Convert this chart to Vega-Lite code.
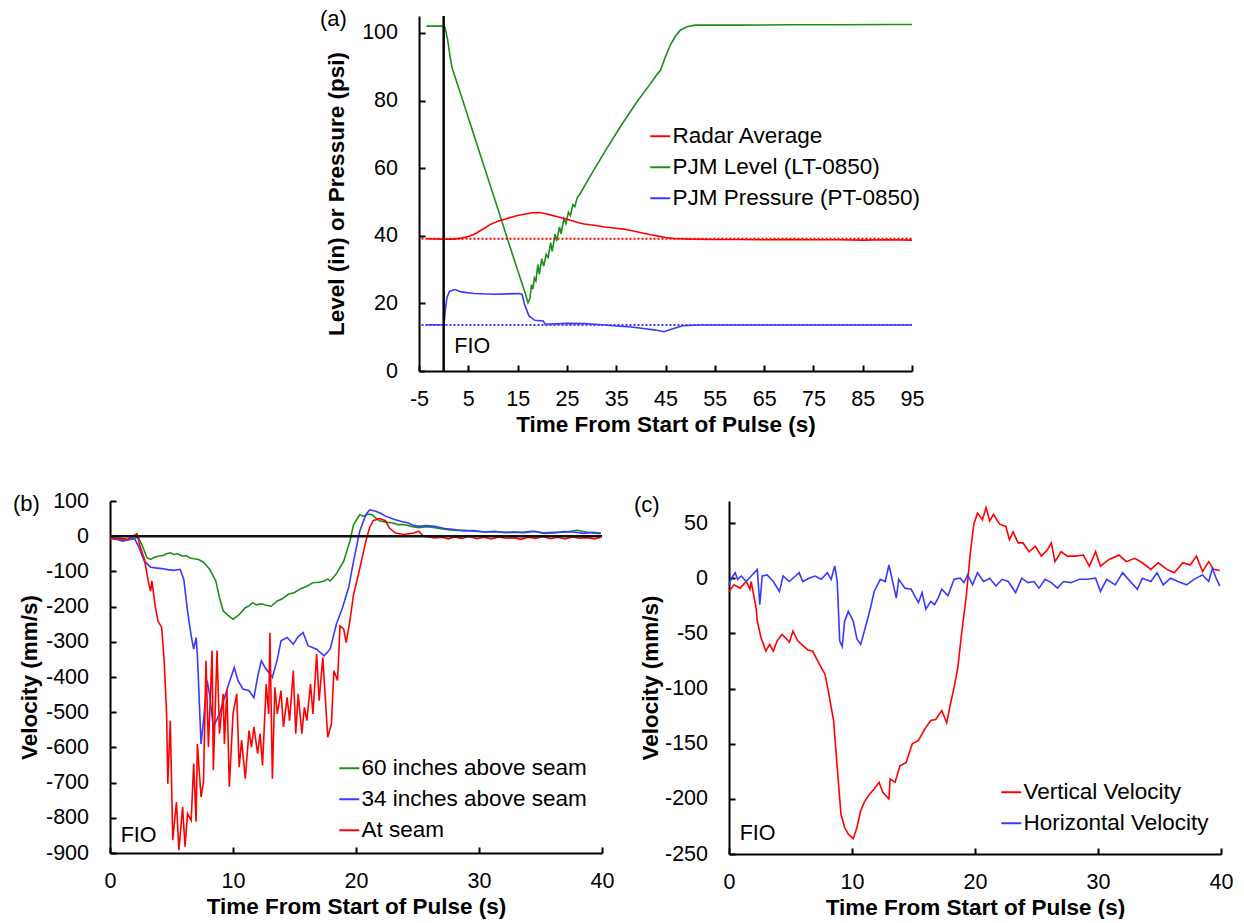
{
  "$schema": "https://vega.github.io/schema/vega-lite/v6.json",
  "background": "white",
  "padding": {"left": 13, "top": 7, "right": 0, "bottom": 0},
  "datasets": {
    "aLines": [
      {"t": -3.5, "v": 102.0, "s": "PJM Level (LT-0850)"},
      {"t": 0, "v": 102.0, "s": "PJM Level (LT-0850)"},
      {"t": 0.3, "v": 101.5, "s": "PJM Level (LT-0850)"},
      {"t": 0.8, "v": 98, "s": "PJM Level (LT-0850)"},
      {"t": 1.3, "v": 93, "s": "PJM Level (LT-0850)"},
      {"t": 1.7, "v": 89.7, "s": "PJM Level (LT-0850)"},
      {"t": 3, "v": 83.9, "s": "PJM Level (LT-0850)"},
      {"t": 5, "v": 74.9, "s": "PJM Level (LT-0850)"},
      {"t": 7, "v": 65.9, "s": "PJM Level (LT-0850)"},
      {"t": 9, "v": 56.9, "s": "PJM Level (LT-0850)"},
      {"t": 11, "v": 47.9, "s": "PJM Level (LT-0850)"},
      {"t": 13, "v": 38.8, "s": "PJM Level (LT-0850)"},
      {"t": 15, "v": 29.8, "s": "PJM Level (LT-0850)"},
      {"t": 16.5, "v": 23.2, "s": "PJM Level (LT-0850)"},
      {"t": 17.1, "v": 20.2, "s": "PJM Level (LT-0850)"},
      {"t": 17.5, "v": 21.5, "s": "PJM Level (LT-0850)"},
      {"t": 17.8, "v": 25.5, "s": "PJM Level (LT-0850)"},
      {"t": 18.1, "v": 24.2, "s": "PJM Level (LT-0850)"},
      {"t": 18.4, "v": 27.5, "s": "PJM Level (LT-0850)"},
      {"t": 18.7, "v": 26.6, "s": "PJM Level (LT-0850)"},
      {"t": 19.1, "v": 31.5, "s": "PJM Level (LT-0850)"},
      {"t": 19.4, "v": 28.6, "s": "PJM Level (LT-0850)"},
      {"t": 19.9, "v": 33.2, "s": "PJM Level (LT-0850)"},
      {"t": 20.3, "v": 31.0, "s": "PJM Level (LT-0850)"},
      {"t": 20.8, "v": 34.5, "s": "PJM Level (LT-0850)"},
      {"t": 21.2, "v": 33.6, "s": "PJM Level (LT-0850)"},
      {"t": 21.7, "v": 38.0, "s": "PJM Level (LT-0850)"},
      {"t": 22.0, "v": 35.4, "s": "PJM Level (LT-0850)"},
      {"t": 22.6, "v": 40.5, "s": "PJM Level (LT-0850)"},
      {"t": 22.9, "v": 38.4, "s": "PJM Level (LT-0850)"},
      {"t": 23.5, "v": 42.6, "s": "PJM Level (LT-0850)"},
      {"t": 23.8, "v": 40.6, "s": "PJM Level (LT-0850)"},
      {"t": 24.4, "v": 45.0, "s": "PJM Level (LT-0850)"},
      {"t": 24.8, "v": 43.6, "s": "PJM Level (LT-0850)"},
      {"t": 25.3, "v": 47.0, "s": "PJM Level (LT-0850)"},
      {"t": 25.7, "v": 46.0, "s": "PJM Level (LT-0850)"},
      {"t": 26.2, "v": 49.2, "s": "PJM Level (LT-0850)"},
      {"t": 26.6, "v": 48.6, "s": "PJM Level (LT-0850)"},
      {"t": 27.1, "v": 51.3, "s": "PJM Level (LT-0850)"},
      {"t": 27.7, "v": 52.5, "s": "PJM Level (LT-0850)"},
      {"t": 30, "v": 58.3, "s": "PJM Level (LT-0850)"},
      {"t": 33, "v": 65.6, "s": "PJM Level (LT-0850)"},
      {"t": 36, "v": 72.6, "s": "PJM Level (LT-0850)"},
      {"t": 39, "v": 79.2, "s": "PJM Level (LT-0850)"},
      {"t": 41.8, "v": 84.7, "s": "PJM Level (LT-0850)"},
      {"t": 43, "v": 87.2, "s": "PJM Level (LT-0850)"},
      {"t": 44, "v": 89, "s": "PJM Level (LT-0850)"},
      {"t": 45, "v": 93, "s": "PJM Level (LT-0850)"},
      {"t": 46, "v": 96.5, "s": "PJM Level (LT-0850)"},
      {"t": 47, "v": 99, "s": "PJM Level (LT-0850)"},
      {"t": 48, "v": 100.8, "s": "PJM Level (LT-0850)"},
      {"t": 49.3, "v": 101.8, "s": "PJM Level (LT-0850)"},
      {"t": 51, "v": 102.3, "s": "PJM Level (LT-0850)"},
      {"t": 60, "v": 102.3, "s": "PJM Level (LT-0850)"},
      {"t": 70, "v": 102.4, "s": "PJM Level (LT-0850)"},
      {"t": 80, "v": 102.4, "s": "PJM Level (LT-0850)"},
      {"t": 90, "v": 102.5, "s": "PJM Level (LT-0850)"},
      {"t": 95, "v": 102.5, "s": "PJM Level (LT-0850)"},
      {"t": -3.5, "v": 39.1, "s": "Radar Average"},
      {"t": 0, "v": 39.0, "s": "Radar Average"},
      {"t": 2, "v": 39.0, "s": "Radar Average"},
      {"t": 3.6, "v": 39.3, "s": "Radar Average"},
      {"t": 5, "v": 39.8, "s": "Radar Average"},
      {"t": 6.1, "v": 40.4, "s": "Radar Average"},
      {"t": 8, "v": 42, "s": "Radar Average"},
      {"t": 9.4, "v": 43.3, "s": "Radar Average"},
      {"t": 11, "v": 44.3, "s": "Radar Average"},
      {"t": 13.5, "v": 45.4, "s": "Radar Average"},
      {"t": 15, "v": 46, "s": "Radar Average"},
      {"t": 16.9, "v": 46.5, "s": "Radar Average"},
      {"t": 18, "v": 46.8, "s": "Radar Average"},
      {"t": 19.4, "v": 46.9, "s": "Radar Average"},
      {"t": 20.5, "v": 46.6, "s": "Radar Average"},
      {"t": 21.8, "v": 46.1, "s": "Radar Average"},
      {"t": 23.5, "v": 45.5, "s": "Radar Average"},
      {"t": 25.2, "v": 44.8, "s": "Radar Average"},
      {"t": 27, "v": 44, "s": "Radar Average"},
      {"t": 28.5, "v": 43.5, "s": "Radar Average"},
      {"t": 30.5, "v": 43.1, "s": "Radar Average"},
      {"t": 32.7, "v": 42.6, "s": "Radar Average"},
      {"t": 34.5, "v": 42.3, "s": "Radar Average"},
      {"t": 36.8, "v": 41.9, "s": "Radar Average"},
      {"t": 38.5, "v": 41.4, "s": "Radar Average"},
      {"t": 40.1, "v": 40.9, "s": "Radar Average"},
      {"t": 42, "v": 40.3, "s": "Radar Average"},
      {"t": 43.5, "v": 39.9, "s": "Radar Average"},
      {"t": 45, "v": 39.5, "s": "Radar Average"},
      {"t": 46.8, "v": 39.2, "s": "Radar Average"},
      {"t": 50.1, "v": 39.0, "s": "Radar Average"},
      {"t": 55, "v": 38.9, "s": "Radar Average"},
      {"t": 60, "v": 38.9, "s": "Radar Average"},
      {"t": 65, "v": 38.8, "s": "Radar Average"},
      {"t": 70, "v": 38.9, "s": "Radar Average"},
      {"t": 75, "v": 38.8, "s": "Radar Average"},
      {"t": 80, "v": 38.8, "s": "Radar Average"},
      {"t": 85, "v": 38.7, "s": "Radar Average"},
      {"t": 90, "v": 38.8, "s": "Radar Average"},
      {"t": 95, "v": 38.7, "s": "Radar Average"},
      {"t": -3.5, "v": 13.7, "s": "PJM Pressure (PT-0850)"},
      {"t": 0, "v": 13.7, "s": "PJM Pressure (PT-0850)"},
      {"t": 0.15, "v": 15, "s": "PJM Pressure (PT-0850)"},
      {"t": 0.3, "v": 17.5, "s": "PJM Pressure (PT-0850)"},
      {"t": 0.65, "v": 21.7, "s": "PJM Pressure (PT-0850)"},
      {"t": 1.2, "v": 23.6, "s": "PJM Pressure (PT-0850)"},
      {"t": 2.3, "v": 24.1, "s": "PJM Pressure (PT-0850)"},
      {"t": 3.6, "v": 23.4, "s": "PJM Pressure (PT-0850)"},
      {"t": 6.1, "v": 22.9, "s": "PJM Pressure (PT-0850)"},
      {"t": 10.2, "v": 22.7, "s": "PJM Pressure (PT-0850)"},
      {"t": 13, "v": 22.8, "s": "PJM Pressure (PT-0850)"},
      {"t": 15.2, "v": 22.9, "s": "PJM Pressure (PT-0850)"},
      {"t": 15.9, "v": 22.7, "s": "PJM Pressure (PT-0850)"},
      {"t": 16.4, "v": 19.7, "s": "PJM Pressure (PT-0850)"},
      {"t": 17.3, "v": 16.3, "s": "PJM Pressure (PT-0850)"},
      {"t": 18.5, "v": 15.0, "s": "PJM Pressure (PT-0850)"},
      {"t": 20.2, "v": 14.8, "s": "PJM Pressure (PT-0850)"},
      {"t": 20.6, "v": 13.8, "s": "PJM Pressure (PT-0850)"},
      {"t": 25, "v": 14.1, "s": "PJM Pressure (PT-0850)"},
      {"t": 28.5, "v": 14.0, "s": "PJM Pressure (PT-0850)"},
      {"t": 32, "v": 13.7, "s": "PJM Pressure (PT-0850)"},
      {"t": 35.1, "v": 13.3, "s": "PJM Pressure (PT-0850)"},
      {"t": 38, "v": 13.0, "s": "PJM Pressure (PT-0850)"},
      {"t": 41, "v": 12.5, "s": "PJM Pressure (PT-0850)"},
      {"t": 43, "v": 12.1, "s": "PJM Pressure (PT-0850)"},
      {"t": 44.7, "v": 11.6, "s": "PJM Pressure (PT-0850)"},
      {"t": 46, "v": 12.3, "s": "PJM Pressure (PT-0850)"},
      {"t": 48.5, "v": 13.4, "s": "PJM Pressure (PT-0850)"},
      {"t": 52, "v": 13.6, "s": "PJM Pressure (PT-0850)"},
      {"t": 60, "v": 13.6, "s": "PJM Pressure (PT-0850)"},
      {"t": 70, "v": 13.6, "s": "PJM Pressure (PT-0850)"},
      {"t": 80, "v": 13.6, "s": "PJM Pressure (PT-0850)"},
      {"t": 90, "v": 13.6, "s": "PJM Pressure (PT-0850)"},
      {"t": 95, "v": 13.6, "s": "PJM Pressure (PT-0850)"}
    ],
    "aRefs": [
      {"t": -4.5, "t2": 95, "v": 39.1, "s": "Radar Average"},
      {"t": -4.5, "t2": 95, "v": 13.6, "s": "PJM Pressure (PT-0850)"}
    ],
    "bLines": [
      {"t": 0, "v": -7, "s": "60 inches above seam"},
      {"t": 0.5, "v": -9, "s": "60 inches above seam"},
      {"t": 1.0, "v": -8, "s": "60 inches above seam"},
      {"t": 1.5, "v": -10, "s": "60 inches above seam"},
      {"t": 2.0, "v": -6, "s": "60 inches above seam"},
      {"t": 2.3, "v": -3, "s": "60 inches above seam"},
      {"t": 2.6, "v": -25, "s": "60 inches above seam"},
      {"t": 3.0, "v": -61, "s": "60 inches above seam"},
      {"t": 3.3, "v": -66, "s": "60 inches above seam"},
      {"t": 3.6, "v": -60, "s": "60 inches above seam"},
      {"t": 3.9, "v": -57, "s": "60 inches above seam"},
      {"t": 4.3, "v": -55, "s": "60 inches above seam"},
      {"t": 4.6, "v": -50, "s": "60 inches above seam"},
      {"t": 4.9, "v": -47, "s": "60 inches above seam"},
      {"t": 5.2, "v": -52, "s": "60 inches above seam"},
      {"t": 5.5, "v": -50, "s": "60 inches above seam"},
      {"t": 5.9, "v": -57, "s": "60 inches above seam"},
      {"t": 6.2, "v": -55, "s": "60 inches above seam"},
      {"t": 6.5, "v": -62, "s": "60 inches above seam"},
      {"t": 6.8, "v": -64, "s": "60 inches above seam"},
      {"t": 7.2, "v": -66, "s": "60 inches above seam"},
      {"t": 7.6, "v": -74, "s": "60 inches above seam"},
      {"t": 8.1, "v": -94, "s": "60 inches above seam"},
      {"t": 8.6, "v": -127, "s": "60 inches above seam"},
      {"t": 8.9, "v": -175, "s": "60 inches above seam"},
      {"t": 9.2, "v": -212, "s": "60 inches above seam"},
      {"t": 9.6, "v": -225, "s": "60 inches above seam"},
      {"t": 10.0, "v": -236, "s": "60 inches above seam"},
      {"t": 10.4, "v": -226, "s": "60 inches above seam"},
      {"t": 10.7, "v": -215, "s": "60 inches above seam"},
      {"t": 11.0, "v": -203, "s": "60 inches above seam"},
      {"t": 11.3, "v": -198, "s": "60 inches above seam"},
      {"t": 11.6, "v": -189, "s": "60 inches above seam"},
      {"t": 11.9, "v": -195, "s": "60 inches above seam"},
      {"t": 12.3, "v": -192, "s": "60 inches above seam"},
      {"t": 12.7, "v": -196, "s": "60 inches above seam"},
      {"t": 13.1, "v": -199, "s": "60 inches above seam"},
      {"t": 13.6, "v": -184, "s": "60 inches above seam"},
      {"t": 14.0, "v": -178, "s": "60 inches above seam"},
      {"t": 14.5, "v": -165, "s": "60 inches above seam"},
      {"t": 15.0, "v": -160, "s": "60 inches above seam"},
      {"t": 15.5, "v": -149, "s": "60 inches above seam"},
      {"t": 16.0, "v": -142, "s": "60 inches above seam"},
      {"t": 16.5, "v": -132, "s": "60 inches above seam"},
      {"t": 17.0, "v": -131, "s": "60 inches above seam"},
      {"t": 17.4, "v": -127, "s": "60 inches above seam"},
      {"t": 17.7, "v": -122, "s": "60 inches above seam"},
      {"t": 17.9, "v": -127, "s": "60 inches above seam"},
      {"t": 18.4, "v": -107, "s": "60 inches above seam"},
      {"t": 19.0, "v": -71, "s": "60 inches above seam"},
      {"t": 19.5, "v": -14, "s": "60 inches above seam"},
      {"t": 19.8, "v": 33, "s": "60 inches above seam"},
      {"t": 20.3, "v": 61, "s": "60 inches above seam"},
      {"t": 20.6, "v": 57, "s": "60 inches above seam"},
      {"t": 21.0, "v": 63, "s": "60 inches above seam"},
      {"t": 21.3, "v": 61, "s": "60 inches above seam"},
      {"t": 21.6, "v": 52, "s": "60 inches above seam"},
      {"t": 21.9, "v": 44, "s": "60 inches above seam"},
      {"t": 22.4, "v": 40, "s": "60 inches above seam"},
      {"t": 22.9, "v": 38, "s": "60 inches above seam"},
      {"t": 23.4, "v": 33, "s": "60 inches above seam"},
      {"t": 23.9, "v": 33, "s": "60 inches above seam"},
      {"t": 24.5, "v": 28, "s": "60 inches above seam"},
      {"t": 25.1, "v": 24, "s": "60 inches above seam"},
      {"t": 25.8, "v": 27, "s": "60 inches above seam"},
      {"t": 26.4, "v": 24, "s": "60 inches above seam"},
      {"t": 27.2, "v": 20, "s": "60 inches above seam"},
      {"t": 28.0, "v": 16, "s": "60 inches above seam"},
      {"t": 28.8, "v": 17, "s": "60 inches above seam"},
      {"t": 29.6, "v": 14, "s": "60 inches above seam"},
      {"t": 30.6, "v": 12, "s": "60 inches above seam"},
      {"t": 31.6, "v": 12, "s": "60 inches above seam"},
      {"t": 32.5, "v": 11, "s": "60 inches above seam"},
      {"t": 33.5, "v": 11, "s": "60 inches above seam"},
      {"t": 34.3, "v": 14, "s": "60 inches above seam"},
      {"t": 35.2, "v": 10, "s": "60 inches above seam"},
      {"t": 36.1, "v": 11, "s": "60 inches above seam"},
      {"t": 37.0, "v": 12, "s": "60 inches above seam"},
      {"t": 38.0, "v": 17, "s": "60 inches above seam"},
      {"t": 39.0, "v": 10, "s": "60 inches above seam"},
      {"t": 39.9, "v": 7, "s": "60 inches above seam"},
      {"t": 0, "v": -5, "s": "34 inches above seam"},
      {"t": 0.5, "v": -8, "s": "34 inches above seam"},
      {"t": 1.0, "v": -14, "s": "34 inches above seam"},
      {"t": 1.5, "v": -10, "s": "34 inches above seam"},
      {"t": 2.0, "v": -7, "s": "34 inches above seam"},
      {"t": 2.3, "v": -28, "s": "34 inches above seam"},
      {"t": 2.8, "v": -71, "s": "34 inches above seam"},
      {"t": 3.3, "v": -88, "s": "34 inches above seam"},
      {"t": 3.7, "v": -90, "s": "34 inches above seam"},
      {"t": 4.2, "v": -92, "s": "34 inches above seam"},
      {"t": 4.7, "v": -95, "s": "34 inches above seam"},
      {"t": 5.2, "v": -97, "s": "34 inches above seam"},
      {"t": 5.7, "v": -94, "s": "34 inches above seam"},
      {"t": 6.0, "v": -123, "s": "34 inches above seam"},
      {"t": 6.3, "v": -212, "s": "34 inches above seam"},
      {"t": 6.6, "v": -283, "s": "34 inches above seam"},
      {"t": 6.8, "v": -321, "s": "34 inches above seam"},
      {"t": 7.0, "v": -288, "s": "34 inches above seam"},
      {"t": 7.1, "v": -335, "s": "34 inches above seam"},
      {"t": 7.4, "v": -590, "s": "34 inches above seam"},
      {"t": 7.6, "v": -524, "s": "34 inches above seam"},
      {"t": 7.9, "v": -410, "s": "34 inches above seam"},
      {"t": 8.1, "v": -450, "s": "34 inches above seam"},
      {"t": 8.3, "v": -514, "s": "34 inches above seam"},
      {"t": 8.4, "v": -542, "s": "34 inches above seam"},
      {"t": 8.9, "v": -505, "s": "34 inches above seam"},
      {"t": 9.4, "v": -448, "s": "34 inches above seam"},
      {"t": 9.7, "v": -415, "s": "34 inches above seam"},
      {"t": 10.1, "v": -373, "s": "34 inches above seam"},
      {"t": 10.4, "v": -410, "s": "34 inches above seam"},
      {"t": 10.8, "v": -434, "s": "34 inches above seam"},
      {"t": 11.3, "v": -439, "s": "34 inches above seam"},
      {"t": 11.7, "v": -459, "s": "34 inches above seam"},
      {"t": 12.0, "v": -400, "s": "34 inches above seam"},
      {"t": 12.3, "v": -354, "s": "34 inches above seam"},
      {"t": 12.6, "v": -373, "s": "34 inches above seam"},
      {"t": 13.2, "v": -401, "s": "34 inches above seam"},
      {"t": 13.6, "v": -350, "s": "34 inches above seam"},
      {"t": 13.9, "v": -297, "s": "34 inches above seam"},
      {"t": 14.4, "v": -288, "s": "34 inches above seam"},
      {"t": 14.9, "v": -307, "s": "34 inches above seam"},
      {"t": 15.3, "v": -285, "s": "34 inches above seam"},
      {"t": 15.7, "v": -274, "s": "34 inches above seam"},
      {"t": 16.1, "v": -311, "s": "34 inches above seam"},
      {"t": 16.8, "v": -321, "s": "34 inches above seam"},
      {"t": 17.4, "v": -340, "s": "34 inches above seam"},
      {"t": 17.9, "v": -321, "s": "34 inches above seam"},
      {"t": 18.4, "v": -250, "s": "34 inches above seam"},
      {"t": 18.9, "v": -203, "s": "34 inches above seam"},
      {"t": 19.4, "v": -146, "s": "34 inches above seam"},
      {"t": 19.8, "v": -71, "s": "34 inches above seam"},
      {"t": 20.3, "v": 14, "s": "34 inches above seam"},
      {"t": 20.8, "v": 61, "s": "34 inches above seam"},
      {"t": 21.1, "v": 75, "s": "34 inches above seam"},
      {"t": 21.6, "v": 71, "s": "34 inches above seam"},
      {"t": 22.0, "v": 65, "s": "34 inches above seam"},
      {"t": 22.4, "v": 57, "s": "34 inches above seam"},
      {"t": 22.8, "v": 52, "s": "34 inches above seam"},
      {"t": 23.2, "v": 47, "s": "34 inches above seam"},
      {"t": 23.7, "v": 42, "s": "34 inches above seam"},
      {"t": 24.2, "v": 38, "s": "34 inches above seam"},
      {"t": 24.6, "v": 32, "s": "34 inches above seam"},
      {"t": 25.1, "v": 28, "s": "34 inches above seam"},
      {"t": 25.7, "v": 30, "s": "34 inches above seam"},
      {"t": 26.4, "v": 28, "s": "34 inches above seam"},
      {"t": 27.2, "v": 22, "s": "34 inches above seam"},
      {"t": 28.0, "v": 19, "s": "34 inches above seam"},
      {"t": 28.8, "v": 15, "s": "34 inches above seam"},
      {"t": 29.6, "v": 16, "s": "34 inches above seam"},
      {"t": 30.4, "v": 12, "s": "34 inches above seam"},
      {"t": 31.3, "v": 14, "s": "34 inches above seam"},
      {"t": 32.1, "v": 10, "s": "34 inches above seam"},
      {"t": 32.9, "v": 12, "s": "34 inches above seam"},
      {"t": 33.7, "v": 10, "s": "34 inches above seam"},
      {"t": 34.5, "v": 14, "s": "34 inches above seam"},
      {"t": 35.3, "v": 8, "s": "34 inches above seam"},
      {"t": 36.1, "v": 9, "s": "34 inches above seam"},
      {"t": 36.9, "v": 13, "s": "34 inches above seam"},
      {"t": 37.7, "v": 12, "s": "34 inches above seam"},
      {"t": 38.5, "v": 8, "s": "34 inches above seam"},
      {"t": 39.2, "v": 11, "s": "34 inches above seam"},
      {"t": 39.9, "v": 9, "s": "34 inches above seam"},
      {"t": 0, "v": -7, "s": "At seam"},
      {"t": 0.7, "v": -5, "s": "At seam"},
      {"t": 1.4, "v": -9, "s": "At seam"},
      {"t": 2.2, "v": 7, "s": "At seam"},
      {"t": 2.4, "v": -24, "s": "At seam"},
      {"t": 2.8, "v": -66, "s": "At seam"},
      {"t": 3.1, "v": -127, "s": "At seam"},
      {"t": 3.3, "v": -156, "s": "At seam"},
      {"t": 3.4, "v": -127, "s": "At seam"},
      {"t": 3.7, "v": -203, "s": "At seam"},
      {"t": 3.9, "v": -241, "s": "At seam"},
      {"t": 4.2, "v": -259, "s": "At seam"},
      {"t": 4.4, "v": -354, "s": "At seam"},
      {"t": 4.6, "v": -505, "s": "At seam"},
      {"t": 4.7, "v": -703, "s": "At seam"},
      {"t": 4.9, "v": -524, "s": "At seam"},
      {"t": 5.1, "v": -863, "s": "At seam"},
      {"t": 5.4, "v": -755, "s": "At seam"},
      {"t": 5.6, "v": -892, "s": "At seam"},
      {"t": 5.9, "v": -769, "s": "At seam"},
      {"t": 6.1, "v": -882, "s": "At seam"},
      {"t": 6.3, "v": -788, "s": "At seam"},
      {"t": 6.6, "v": -807, "s": "At seam"},
      {"t": 6.8, "v": -646, "s": "At seam"},
      {"t": 7.0, "v": -811, "s": "At seam"},
      {"t": 7.1, "v": -590, "s": "At seam"},
      {"t": 7.4, "v": -741, "s": "At seam"},
      {"t": 7.6, "v": -698, "s": "At seam"},
      {"t": 7.8, "v": -354, "s": "At seam"},
      {"t": 8.0, "v": -599, "s": "At seam"},
      {"t": 8.3, "v": -325, "s": "At seam"},
      {"t": 8.4, "v": -665, "s": "At seam"},
      {"t": 8.7, "v": -325, "s": "At seam"},
      {"t": 8.9, "v": -561, "s": "At seam"},
      {"t": 9.2, "v": -448, "s": "At seam"},
      {"t": 9.3, "v": -590, "s": "At seam"},
      {"t": 9.5, "v": -434, "s": "At seam"},
      {"t": 9.7, "v": -712, "s": "At seam"},
      {"t": 10.0, "v": -505, "s": "At seam"},
      {"t": 10.3, "v": -448, "s": "At seam"},
      {"t": 10.5, "v": -656, "s": "At seam"},
      {"t": 10.7, "v": -580, "s": "At seam"},
      {"t": 11.0, "v": -689, "s": "At seam"},
      {"t": 11.3, "v": -552, "s": "At seam"},
      {"t": 11.5, "v": -599, "s": "At seam"},
      {"t": 11.7, "v": -542, "s": "At seam"},
      {"t": 12.0, "v": -618, "s": "At seam"},
      {"t": 12.2, "v": -561, "s": "At seam"},
      {"t": 12.4, "v": -651, "s": "At seam"},
      {"t": 12.7, "v": -420, "s": "At seam"},
      {"t": 12.9, "v": -505, "s": "At seam"},
      {"t": 13.0, "v": -274, "s": "At seam"},
      {"t": 13.2, "v": -689, "s": "At seam"},
      {"t": 13.4, "v": -429, "s": "At seam"},
      {"t": 13.6, "v": -505, "s": "At seam"},
      {"t": 13.9, "v": -439, "s": "At seam"},
      {"t": 14.1, "v": -542, "s": "At seam"},
      {"t": 14.4, "v": -458, "s": "At seam"},
      {"t": 14.6, "v": -524, "s": "At seam"},
      {"t": 14.9, "v": -382, "s": "At seam"},
      {"t": 15.1, "v": -561, "s": "At seam"},
      {"t": 15.3, "v": -448, "s": "At seam"},
      {"t": 15.6, "v": -561, "s": "At seam"},
      {"t": 15.8, "v": -486, "s": "At seam"},
      {"t": 16.0, "v": -524, "s": "At seam"},
      {"t": 16.3, "v": -420, "s": "At seam"},
      {"t": 16.5, "v": -505, "s": "At seam"},
      {"t": 16.8, "v": -335, "s": "At seam"},
      {"t": 17.0, "v": -467, "s": "At seam"},
      {"t": 17.3, "v": -345, "s": "At seam"},
      {"t": 17.5, "v": -458, "s": "At seam"},
      {"t": 17.7, "v": -571, "s": "At seam"},
      {"t": 18.0, "v": -533, "s": "At seam"},
      {"t": 18.2, "v": -382, "s": "At seam"},
      {"t": 18.5, "v": -410, "s": "At seam"},
      {"t": 18.7, "v": -255, "s": "At seam"},
      {"t": 19.0, "v": -264, "s": "At seam"},
      {"t": 19.2, "v": -302, "s": "At seam"},
      {"t": 19.5, "v": -241, "s": "At seam"},
      {"t": 19.8, "v": -165, "s": "At seam"},
      {"t": 20.2, "v": -108, "s": "At seam"},
      {"t": 20.5, "v": -61, "s": "At seam"},
      {"t": 20.8, "v": -14, "s": "At seam"},
      {"t": 21.1, "v": 24, "s": "At seam"},
      {"t": 21.4, "v": 44, "s": "At seam"},
      {"t": 21.9, "v": 50, "s": "At seam"},
      {"t": 22.4, "v": 44, "s": "At seam"},
      {"t": 22.7, "v": 24, "s": "At seam"},
      {"t": 23.2, "v": 9, "s": "At seam"},
      {"t": 23.9, "v": 5, "s": "At seam"},
      {"t": 24.7, "v": 9, "s": "At seam"},
      {"t": 25.1, "v": 14, "s": "At seam"},
      {"t": 25.5, "v": 0, "s": "At seam"},
      {"t": 26.4, "v": -5, "s": "At seam"},
      {"t": 27.0, "v": -3, "s": "At seam"},
      {"t": 27.5, "v": -8, "s": "At seam"},
      {"t": 28.0, "v": -2, "s": "At seam"},
      {"t": 28.6, "v": -6, "s": "At seam"},
      {"t": 29.2, "v": 0, "s": "At seam"},
      {"t": 29.8, "v": -7, "s": "At seam"},
      {"t": 30.4, "v": -3, "s": "At seam"},
      {"t": 31.0, "v": -8, "s": "At seam"},
      {"t": 31.6, "v": -2, "s": "At seam"},
      {"t": 32.2, "v": -6, "s": "At seam"},
      {"t": 32.8, "v": -4, "s": "At seam"},
      {"t": 33.4, "v": -9, "s": "At seam"},
      {"t": 34.0, "v": -3, "s": "At seam"},
      {"t": 34.6, "v": -6, "s": "At seam"},
      {"t": 35.2, "v": -1, "s": "At seam"},
      {"t": 35.8, "v": -7, "s": "At seam"},
      {"t": 36.4, "v": -3, "s": "At seam"},
      {"t": 37.0, "v": -8, "s": "At seam"},
      {"t": 37.6, "v": -2, "s": "At seam"},
      {"t": 38.2, "v": -6, "s": "At seam"},
      {"t": 38.8, "v": -4, "s": "At seam"},
      {"t": 39.4, "v": -8, "s": "At seam"},
      {"t": 39.9, "v": -3, "s": "At seam"}
    ],
    "cLines": [
      {"t": 0, "v": -12, "s": "Vertical Velocity"},
      {"t": 0.4, "v": -6, "s": "Vertical Velocity"},
      {"t": 0.9, "v": -9, "s": "Vertical Velocity"},
      {"t": 1.4, "v": -3, "s": "Vertical Velocity"},
      {"t": 1.7, "v": -10, "s": "Vertical Velocity"},
      {"t": 1.8, "v": -3, "s": "Vertical Velocity"},
      {"t": 2.2, "v": -27, "s": "Vertical Velocity"},
      {"t": 2.3, "v": -39, "s": "Vertical Velocity"},
      {"t": 2.6, "v": -54, "s": "Vertical Velocity"},
      {"t": 3.0, "v": -66, "s": "Vertical Velocity"},
      {"t": 3.3, "v": -60, "s": "Vertical Velocity"},
      {"t": 3.6, "v": -66, "s": "Vertical Velocity"},
      {"t": 3.9, "v": -57, "s": "Vertical Velocity"},
      {"t": 4.3, "v": -51, "s": "Vertical Velocity"},
      {"t": 4.6, "v": -54, "s": "Vertical Velocity"},
      {"t": 4.9, "v": -58, "s": "Vertical Velocity"},
      {"t": 5.2, "v": -48, "s": "Vertical Velocity"},
      {"t": 5.6, "v": -57, "s": "Vertical Velocity"},
      {"t": 5.9, "v": -60, "s": "Vertical Velocity"},
      {"t": 6.4, "v": -65, "s": "Vertical Velocity"},
      {"t": 6.8, "v": -66, "s": "Vertical Velocity"},
      {"t": 7.3, "v": -77, "s": "Vertical Velocity"},
      {"t": 7.8, "v": -87, "s": "Vertical Velocity"},
      {"t": 8.1, "v": -104, "s": "Vertical Velocity"},
      {"t": 8.5, "v": -129, "s": "Vertical Velocity"},
      {"t": 8.8, "v": -172, "s": "Vertical Velocity"},
      {"t": 9.1, "v": -214, "s": "Vertical Velocity"},
      {"t": 9.4, "v": -226, "s": "Vertical Velocity"},
      {"t": 9.7, "v": -232, "s": "Vertical Velocity"},
      {"t": 10.1, "v": -236, "s": "Vertical Velocity"},
      {"t": 10.4, "v": -226, "s": "Vertical Velocity"},
      {"t": 10.7, "v": -211, "s": "Vertical Velocity"},
      {"t": 11.0, "v": -203, "s": "Vertical Velocity"},
      {"t": 11.4, "v": -196, "s": "Vertical Velocity"},
      {"t": 11.8, "v": -191, "s": "Vertical Velocity"},
      {"t": 12.2, "v": -185, "s": "Vertical Velocity"},
      {"t": 12.5, "v": -194, "s": "Vertical Velocity"},
      {"t": 13.0, "v": -200, "s": "Vertical Velocity"},
      {"t": 13.1, "v": -182, "s": "Vertical Velocity"},
      {"t": 13.5, "v": -185, "s": "Vertical Velocity"},
      {"t": 13.9, "v": -170, "s": "Vertical Velocity"},
      {"t": 14.4, "v": -167, "s": "Vertical Velocity"},
      {"t": 14.9, "v": -150, "s": "Vertical Velocity"},
      {"t": 15.4, "v": -147, "s": "Vertical Velocity"},
      {"t": 15.9, "v": -137, "s": "Vertical Velocity"},
      {"t": 16.4, "v": -129, "s": "Vertical Velocity"},
      {"t": 16.8, "v": -128, "s": "Vertical Velocity"},
      {"t": 17.3, "v": -120, "s": "Vertical Velocity"},
      {"t": 17.7, "v": -131, "s": "Vertical Velocity"},
      {"t": 18.0, "v": -114, "s": "Vertical Velocity"},
      {"t": 18.3, "v": -99, "s": "Vertical Velocity"},
      {"t": 18.6, "v": -81, "s": "Vertical Velocity"},
      {"t": 18.9, "v": -51, "s": "Vertical Velocity"},
      {"t": 19.3, "v": -15, "s": "Vertical Velocity"},
      {"t": 19.6, "v": 21, "s": "Vertical Velocity"},
      {"t": 19.9, "v": 49, "s": "Vertical Velocity"},
      {"t": 20.2, "v": 59, "s": "Vertical Velocity"},
      {"t": 20.6, "v": 53, "s": "Vertical Velocity"},
      {"t": 20.9, "v": 64, "s": "Vertical Velocity"},
      {"t": 21.2, "v": 52, "s": "Vertical Velocity"},
      {"t": 21.5, "v": 58, "s": "Vertical Velocity"},
      {"t": 22.0, "v": 49, "s": "Vertical Velocity"},
      {"t": 22.5, "v": 47, "s": "Vertical Velocity"},
      {"t": 22.8, "v": 35, "s": "Vertical Velocity"},
      {"t": 23.1, "v": 42, "s": "Vertical Velocity"},
      {"t": 23.5, "v": 32, "s": "Vertical Velocity"},
      {"t": 23.9, "v": 32, "s": "Vertical Velocity"},
      {"t": 24.4, "v": 24, "s": "Vertical Velocity"},
      {"t": 24.9, "v": 29, "s": "Vertical Velocity"},
      {"t": 25.4, "v": 20, "s": "Vertical Velocity"},
      {"t": 25.9, "v": 26, "s": "Vertical Velocity"},
      {"t": 26.2, "v": 32, "s": "Vertical Velocity"},
      {"t": 26.5, "v": 15, "s": "Vertical Velocity"},
      {"t": 27.0, "v": 24, "s": "Vertical Velocity"},
      {"t": 27.5, "v": 20, "s": "Vertical Velocity"},
      {"t": 28.1, "v": 20, "s": "Vertical Velocity"},
      {"t": 28.8, "v": 21, "s": "Vertical Velocity"},
      {"t": 29.3, "v": 11, "s": "Vertical Velocity"},
      {"t": 29.8, "v": 24, "s": "Vertical Velocity"},
      {"t": 30.2, "v": 11, "s": "Vertical Velocity"},
      {"t": 30.9, "v": 17, "s": "Vertical Velocity"},
      {"t": 31.7, "v": 21, "s": "Vertical Velocity"},
      {"t": 32.3, "v": 15, "s": "Vertical Velocity"},
      {"t": 33.0, "v": 18, "s": "Vertical Velocity"},
      {"t": 33.6, "v": 14, "s": "Vertical Velocity"},
      {"t": 34.3, "v": 8, "s": "Vertical Velocity"},
      {"t": 34.9, "v": 14, "s": "Vertical Velocity"},
      {"t": 35.6, "v": 8, "s": "Vertical Velocity"},
      {"t": 36.2, "v": 5, "s": "Vertical Velocity"},
      {"t": 36.9, "v": 14, "s": "Vertical Velocity"},
      {"t": 37.5, "v": 12, "s": "Vertical Velocity"},
      {"t": 38.0, "v": 20, "s": "Vertical Velocity"},
      {"t": 38.5, "v": 6, "s": "Vertical Velocity"},
      {"t": 39.0, "v": 15, "s": "Vertical Velocity"},
      {"t": 39.4, "v": 8, "s": "Vertical Velocity"},
      {"t": 39.9, "v": 7, "s": "Vertical Velocity"},
      {"t": 0, "v": -6, "s": "Horizontal Velocity"},
      {"t": 0.2, "v": 0, "s": "Horizontal Velocity"},
      {"t": 0.5, "v": 5, "s": "Horizontal Velocity"},
      {"t": 0.7, "v": -1, "s": "Horizontal Velocity"},
      {"t": 1.0, "v": 2, "s": "Horizontal Velocity"},
      {"t": 1.4, "v": -3, "s": "Horizontal Velocity"},
      {"t": 1.8, "v": 2, "s": "Horizontal Velocity"},
      {"t": 2.3, "v": 8, "s": "Horizontal Velocity"},
      {"t": 2.5, "v": -24, "s": "Horizontal Velocity"},
      {"t": 2.7, "v": 2, "s": "Horizontal Velocity"},
      {"t": 3.1, "v": 3, "s": "Horizontal Velocity"},
      {"t": 3.6, "v": -3, "s": "Horizontal Velocity"},
      {"t": 4.1, "v": -12, "s": "Horizontal Velocity"},
      {"t": 4.4, "v": 2, "s": "Horizontal Velocity"},
      {"t": 4.9, "v": -3, "s": "Horizontal Velocity"},
      {"t": 5.4, "v": 2, "s": "Horizontal Velocity"},
      {"t": 5.7, "v": 5, "s": "Horizontal Velocity"},
      {"t": 6.0, "v": -3, "s": "Horizontal Velocity"},
      {"t": 6.5, "v": 0, "s": "Horizontal Velocity"},
      {"t": 7.0, "v": 2, "s": "Horizontal Velocity"},
      {"t": 7.5, "v": -1, "s": "Horizontal Velocity"},
      {"t": 8.0, "v": 5, "s": "Horizontal Velocity"},
      {"t": 8.3, "v": -1, "s": "Horizontal Velocity"},
      {"t": 8.6, "v": 11, "s": "Horizontal Velocity"},
      {"t": 8.8, "v": -3, "s": "Horizontal Velocity"},
      {"t": 9.0, "v": -57, "s": "Horizontal Velocity"},
      {"t": 9.2, "v": -62, "s": "Horizontal Velocity"},
      {"t": 9.4, "v": -39, "s": "Horizontal Velocity"},
      {"t": 9.7, "v": -30, "s": "Horizontal Velocity"},
      {"t": 10.1, "v": -39, "s": "Horizontal Velocity"},
      {"t": 10.4, "v": -55, "s": "Horizontal Velocity"},
      {"t": 10.7, "v": -60, "s": "Horizontal Velocity"},
      {"t": 11.0, "v": -48, "s": "Horizontal Velocity"},
      {"t": 11.5, "v": -27, "s": "Horizontal Velocity"},
      {"t": 11.8, "v": -12, "s": "Horizontal Velocity"},
      {"t": 12.3, "v": -1, "s": "Horizontal Velocity"},
      {"t": 12.7, "v": -3, "s": "Horizontal Velocity"},
      {"t": 13.0, "v": 12, "s": "Horizontal Velocity"},
      {"t": 13.3, "v": -3, "s": "Horizontal Velocity"},
      {"t": 13.6, "v": -18, "s": "Horizontal Velocity"},
      {"t": 13.8, "v": -1, "s": "Horizontal Velocity"},
      {"t": 14.3, "v": -9, "s": "Horizontal Velocity"},
      {"t": 14.8, "v": -10, "s": "Horizontal Velocity"},
      {"t": 15.1, "v": -16, "s": "Horizontal Velocity"},
      {"t": 15.4, "v": -22, "s": "Horizontal Velocity"},
      {"t": 15.7, "v": -13, "s": "Horizontal Velocity"},
      {"t": 16.0, "v": -28, "s": "Horizontal Velocity"},
      {"t": 16.4, "v": -21, "s": "Horizontal Velocity"},
      {"t": 16.7, "v": -24, "s": "Horizontal Velocity"},
      {"t": 17.0, "v": -18, "s": "Horizontal Velocity"},
      {"t": 17.3, "v": -10, "s": "Horizontal Velocity"},
      {"t": 17.8, "v": -16, "s": "Horizontal Velocity"},
      {"t": 18.3, "v": -1, "s": "Horizontal Velocity"},
      {"t": 18.8, "v": 0, "s": "Horizontal Velocity"},
      {"t": 19.1, "v": -4, "s": "Horizontal Velocity"},
      {"t": 19.4, "v": 3, "s": "Horizontal Velocity"},
      {"t": 19.8, "v": -6, "s": "Horizontal Velocity"},
      {"t": 20.2, "v": 5, "s": "Horizontal Velocity"},
      {"t": 20.7, "v": -3, "s": "Horizontal Velocity"},
      {"t": 21.2, "v": 0, "s": "Horizontal Velocity"},
      {"t": 21.7, "v": -7, "s": "Horizontal Velocity"},
      {"t": 22.2, "v": -1, "s": "Horizontal Velocity"},
      {"t": 22.7, "v": -3, "s": "Horizontal Velocity"},
      {"t": 23.3, "v": -13, "s": "Horizontal Velocity"},
      {"t": 23.8, "v": 0, "s": "Horizontal Velocity"},
      {"t": 24.3, "v": -4, "s": "Horizontal Velocity"},
      {"t": 24.8, "v": -3, "s": "Horizontal Velocity"},
      {"t": 25.2, "v": -9, "s": "Horizontal Velocity"},
      {"t": 25.7, "v": -1, "s": "Horizontal Velocity"},
      {"t": 26.2, "v": -4, "s": "Horizontal Velocity"},
      {"t": 26.7, "v": -9, "s": "Horizontal Velocity"},
      {"t": 27.2, "v": -3, "s": "Horizontal Velocity"},
      {"t": 27.8, "v": -4, "s": "Horizontal Velocity"},
      {"t": 28.5, "v": -1, "s": "Horizontal Velocity"},
      {"t": 29.1, "v": -1, "s": "Horizontal Velocity"},
      {"t": 29.8, "v": 0, "s": "Horizontal Velocity"},
      {"t": 30.2, "v": -12, "s": "Horizontal Velocity"},
      {"t": 30.7, "v": -1, "s": "Horizontal Velocity"},
      {"t": 31.4, "v": -6, "s": "Horizontal Velocity"},
      {"t": 32.0, "v": 5, "s": "Horizontal Velocity"},
      {"t": 32.7, "v": -4, "s": "Horizontal Velocity"},
      {"t": 33.2, "v": -10, "s": "Horizontal Velocity"},
      {"t": 33.6, "v": 0, "s": "Horizontal Velocity"},
      {"t": 34.3, "v": -3, "s": "Horizontal Velocity"},
      {"t": 34.8, "v": 5, "s": "Horizontal Velocity"},
      {"t": 35.3, "v": -6, "s": "Horizontal Velocity"},
      {"t": 35.9, "v": 0, "s": "Horizontal Velocity"},
      {"t": 36.5, "v": -3, "s": "Horizontal Velocity"},
      {"t": 37.2, "v": -6, "s": "Horizontal Velocity"},
      {"t": 37.8, "v": -1, "s": "Horizontal Velocity"},
      {"t": 38.5, "v": 3, "s": "Horizontal Velocity"},
      {"t": 39.0, "v": -3, "s": "Horizontal Velocity"},
      {"t": 39.3, "v": 9, "s": "Horizontal Velocity"},
      {"t": 39.6, "v": 0, "s": "Horizontal Velocity"},
      {"t": 39.9, "v": -7, "s": "Horizontal Velocity"}
    ]
  },
  "vconcat": [
    {
      "width": 493,
      "height": 355,
      "title": {"text": "(a)", "dy": 20},
      "layer": [
        {
          "data": {"name": "aLines"},
          "mark": {"type": "line", "strokeWidth": 1.6},
          "encoding": {
            "x": {"field": "t", "type": "quantitative", "title": "Time From Start of Pulse (s)", "scale": {"domain": [-5, 95], "nice": false},
                  "axis": {"values": [-5, 5, 15, 25, 35, 45, 55, 65, 75, 85, 95], "tickCount": 20, "ticks": true, "tickSize": -6, "labelOverlap": false, "labelExpr": "'' + datum.value"}},
            "y": {"field": "v", "type": "quantitative", "title": "Level (in) or Pressure (psi)", "scale": {"domain": [0, 105], "nice": false},
                  "axis": {"values": [0, 20, 40, 60, 80, 100], "tickCount": 20, "titleX": -76, "ticks": true, "tickSize": -6, "labelOverlap": false, "labelExpr": "'' + datum.value"}},
            "color": {
              "field": "s", "type": "nominal",
              "scale": {"domain": ["Radar Average", "PJM Level (LT-0850)", "PJM Pressure (PT-0850)"], "range": ["#ff0000", "#1a8f1a", "#3a3aff"]},
              "legend": {"title": null, "legendX": 230, "legendY": 109}
            }
          }
        },
        {
          "data": {"name": "aRefs"},
          "mark": {"type": "rule", "strokeWidth": 2, "strokeDash": [2, 2]},
          "encoding": {
            "x": {"field": "t", "type": "quantitative", "title": "Time From Start of Pulse (s)", "scale": {"domain": [-5, 95], "nice": false}},
            "x2": {"field": "t2"},
            "y": {"field": "v", "type": "quantitative", "title": "Level (in) or Pressure (psi)", "scale": {"domain": [0, 105], "nice": false}},
            "color": {
              "field": "s", "type": "nominal",
              "scale": {"domain": ["Radar Average", "PJM Level (LT-0850)", "PJM Pressure (PT-0850)"], "range": ["#ff0000", "#1a8f1a", "#3a3aff"]},
              "legend": {"title": null, "legendX": 230, "legendY": 109}
            }
          }
        },
        {
          "data": {"values": [{"t": 0, "v": 0, "v2": 105}]},
          "mark": {"type": "rule", "color": "black", "strokeWidth": 2.5},
          "encoding": {
            "x": {"field": "t", "type": "quantitative", "title": "Time From Start of Pulse (s)"},
            "y": {"field": "v", "type": "quantitative", "title": "Level (in) or Pressure (psi)"},
            "y2": {"field": "v2"}
          }
        },
        {
          "data": {"values": [{"t": 2.15, "v": 7.2, "label": "FIO"}]},
          "mark": {"type": "text", "align": "left", "baseline": "middle", "fontSize": 21.5, "font": "Liberation Sans", "color": "black"},
          "encoding": {
            "x": {"field": "t", "type": "quantitative", "title": "Time From Start of Pulse (s)"},
            "y": {"field": "v", "type": "quantitative", "title": "Level (in) or Pressure (psi)"},
            "text": {"field": "label"}
          }
        }
      ]
    },
    {
      "hconcat": [
        {
          "width": 492,
          "height": 352,
          "title": {"text": "(b)", "dy": 30},
          "layer": [
            {
              "data": {"name": "bLines"},
              "mark": {"type": "line", "strokeWidth": 1.6},
              "encoding": {
                "x": {"field": "t", "type": "quantitative", "title": "Time From Start of Pulse (s)", "scale": {"domain": [0, 40], "nice": false},
                      "axis": {"values": [0, 10, 20, 30, 40], "tickCount": 20, "ticks": true, "tickSize": -6, "labelOverlap": false, "labelExpr": "'' + datum.value"}},
                "y": {"field": "v", "type": "quantitative", "title": "Velocity (mm/s)", "scale": {"domain": [-900, 100], "nice": false},
                      "axis": {"values": [-900, -800, -700, -600, -500, -400, -300, -200, -100, 0, 100], "tickCount": 20, "titleX": -74, "ticks": true, "tickSize": -6, "labelOverlap": false, "labelExpr": "'' + datum.value"}},
                "color": {
                  "field": "s", "type": "nominal",
                  "scale": {"domain": ["60 inches above seam", "34 inches above seam", "At seam"], "range": ["#1a8f1a", "#3a3aff", "#ff0000"]},
                  "legend": {"title": null, "legendX": 228, "legendY": 256}
                }
              }
            },
            {
              "data": {"values": [{"t": 0, "t2": 40, "v": 0}]},
              "mark": {"type": "rule", "color": "#111111", "strokeWidth": 2.5},
              "encoding": {
                "x": {"field": "t", "type": "quantitative", "title": "Time From Start of Pulse (s)", "scale": {"domain": [0, 40], "nice": false},
                      "axis": {"values": [0, 10, 20, 30, 40], "tickCount": 20, "ticks": true, "tickSize": -6, "labelOverlap": false, "labelExpr": "'' + datum.value"}},
                "x2": {"field": "t2"},
                "y": {"field": "v", "type": "quantitative", "title": "Velocity (mm/s)", "scale": {"domain": [-900, 100], "nice": false},
                      "axis": {"values": [-900, -800, -700, -600, -500, -400, -300, -200, -100, 0, 100], "tickCount": 20, "titleX": -74, "ticks": true, "tickSize": -6, "labelOverlap": false, "labelExpr": "'' + datum.value"}}
              }
            },
            {
              "data": {"values": [{"t": 0.87, "v": -851, "label": "FIO"}]},
              "mark": {"type": "text", "align": "left", "baseline": "middle", "fontSize": 21.5, "font": "Liberation Sans", "color": "black"},
              "encoding": {
                "x": {"field": "t", "type": "quantitative", "title": "Time From Start of Pulse (s)"},
                "y": {"field": "v", "type": "quantitative", "title": "Velocity (mm/s)"},
                "text": {"field": "label"}
              }
            }
          ]
        },
        {
          "width": 492,
          "height": 353,
          "title": {"text": "(c)", "dy": 20},
          "layer": [
            {
              "data": {"name": "cLines"},
              "mark": {"type": "line", "strokeWidth": 1.6},
              "encoding": {
                "x": {"field": "t", "type": "quantitative", "title": "Time From Start of Pulse (s)", "scale": {"domain": [0, 40], "nice": false},
                      "axis": {"values": [0, 10, 20, 30, 40], "tickCount": 20, "ticks": true, "tickSize": -6, "labelOverlap": false, "labelExpr": "'' + datum.value"}},
                "y": {"field": "v", "type": "quantitative", "title": "Velocity (mm/s)", "scale": {"domain": [-250, 70], "nice": false},
                      "axis": {"values": [-250, -200, -150, -100, -50, 0, 50], "tickCount": 20, "titleX": -72, "ticks": true, "tickSize": -6, "labelOverlap": false, "labelExpr": "'' + datum.value"}},
                "color": {
                  "field": "s", "type": "nominal",
                  "scale": {"domain": ["Vertical Velocity", "Horizontal Velocity"], "range": ["#ff0000", "#3a3aff"]},
                  "legend": {"title": null, "legendX": 271, "legendY": 280}
                }
              }
            },
            {
              "data": {"values": [{"t": 0.87, "v": -232, "label": "FIO"}]},
              "mark": {"type": "text", "align": "left", "baseline": "middle", "fontSize": 21.5, "font": "Liberation Sans", "color": "black"},
              "encoding": {
                "x": {"field": "t", "type": "quantitative", "title": "Time From Start of Pulse (s)"},
                "y": {"field": "v", "type": "quantitative", "title": "Velocity (mm/s)"},
                "text": {"field": "label"}
              }
            }
          ]
        }
      ],
      "spacing": 20,
      "resolve": {"scale": {"color": "independent", "x": "independent", "y": "independent"}, "legend": {"color": "independent"}}
    }
  ],
  "spacing": 54,
  "center": true,
  "resolve": {"scale": {"color": "independent", "x": "independent", "y": "independent"}, "legend": {"color": "independent"}},
  "config": {
    "font": "Liberation Sans",
    "view": {"stroke": null},
    "axis": {
      "grid": false,
      "domainColor": "black",
      "domainWidth": 2,
      "tickColor": "black",
      "tickWidth": 2,
      "labelFont": "Liberation Sans",
      "labelFontSize": 21.5,
      "labelColor": "black",
      "labelFlush": false,
      "labelOverlap": false,
      "titleFont": "Liberation Sans",
      "titleFontSize": 22.5,
      "titleFontWeight": "bold",
      "titleColor": "black",
      "titleBaseline": "alphabetic"
    },
    "axisX": {"labelPadding": 23, "titleY": 60},
    "axisY": {"labelPadding": 27.5},
    "legend": {
      "orient": "none",
      "symbolType": "stroke",
      "symbolSize": 400,
      "symbolStrokeWidth": 2,
      "labelFont": "Liberation Sans",
      "labelFontSize": 22.5,
      "labelColor": "black",
      "labelOffset": 1,
      "labelLimit": 0,
      "rowPadding": 8,
      "padding": 0
    },
    "title": {
      "anchor": "start",
      "frame": "bounds",
      "font": "Liberation Sans",
      "fontSize": 22,
      "fontWeight": "normal",
      "color": "black",
      "offset": 0,
      "baseline": "middle",
      "dx": -5
    }
  }
}
